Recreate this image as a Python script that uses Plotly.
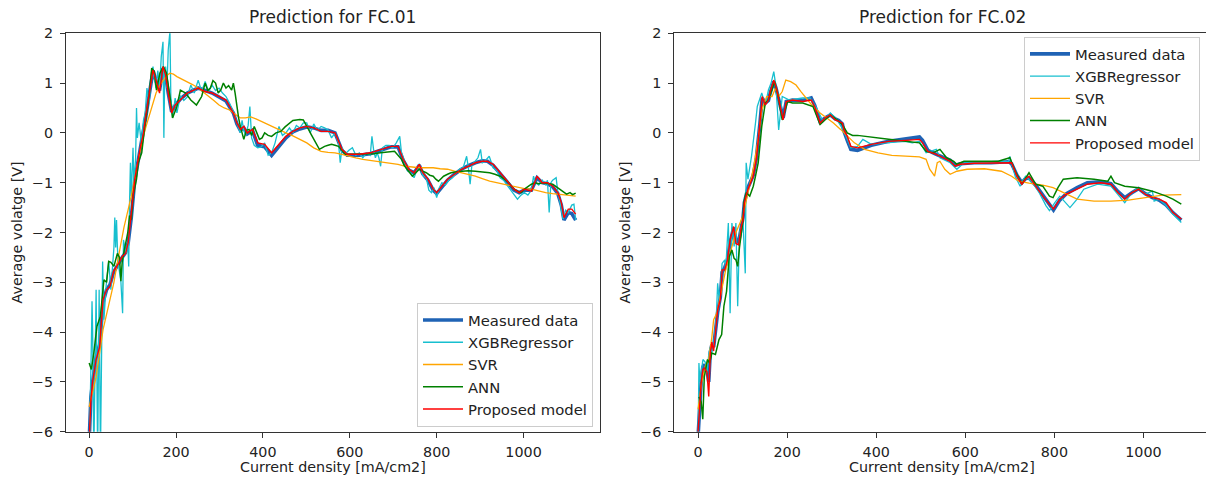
import plotly.graph_objects as go

# ---------------- data (current density [mA/cm2], average voltage [V]) ----------------
FC1_MEASURED = [(0,-6.2),(4,-5.3),(8,-5.0),(16,-4.5),(24,-4.25),(28,-3.8),(32,-3.4),(40,-3.15),(48,-3.05),(56,-2.8),(68,-2.6),(76,-2.5),(84,-2.4),(90,-2.2),(97,-1.7),(105,-0.95),(117,-0.35),(125,0.0),(130,0.3),(138,0.75),(147,1.25),(154,1.05),(162,0.85),(170,1.3),(176,1.15),(182,0.8),(190,0.42),(198,0.55),(210,0.68),(226,0.8),(251,0.9),(267,0.85),(283,0.8),(299,0.72),(315,0.64),(332,0.4),(340,0.18),(348,0.05),(356,0.1),(364,-0.02),(376,0.05),(388,-0.25),(404,-0.28),(420,-0.45),(437,-0.28),(453,-0.1),(469,0.02),(485,0.08),(501,0.12),(517,0.1),(534,0.05),(550,0.05),(566,0.0),(582,-0.35),(594,-0.45),(606,-0.45),(622,-0.45),(647,-0.42),(671,-0.35),(695,-0.28),(711,-0.28),(723,-0.55),(736,-0.75),(748,-0.8),(760,-0.65),(768,-0.82),(780,-0.95),(792,-1.15),(800,-1.22),(812,-1.08),(825,-0.95),(841,-0.83),(857,-0.73),(873,-0.66),(889,-0.6),(905,-0.56),(917,-0.57),(930,-0.65),(946,-0.82),(962,-0.98),(978,-1.15),(990,-1.2),(1002,-1.15),(1018,-1.15),(1031,-0.9),(1043,-1.0),(1055,-1.02),(1067,-1.08),(1079,-1.22),(1087,-1.45),(1093,-1.75),(1103,-1.6),(1111,-1.62),(1120,-1.75)]

FC1_XGB = [(0,-6.5),(2,-5.75),(5,-4.28),(6.6,-3.38),(8,-3.95),(10.7,-6.5),(14,-3.7),(16,-3.15),(19.5,-6.5),(23,-3.15),(26,-6.5),(28,-4.1),(31,-2.58),(34,-3.75),(39,-3.08),(45,-2.58),(50,-3.15),(57,-2.3),(59,-1.7),(61,-2.3),(63,-1.75),(65,-2.3),(67,-2.62),(73,-2.98),(77,-3.62),(79,-2.15),(85,-2.42),(89,-2.2),(91,-2.68),(93,-1.4),(95,-0.6),(97,-1.27),(101,-0.3),(103,-1.0),(107,-0.5),(109,0.5),(111,-0.1),(115,0.2),(120,-0.2),(125,0.25),(129,0.4),(133,0.9),(138,0.6),(142,1.05),(147,1.33),(150,1.1),(154,0.9),(158,1.25),(162,0.9),(166,1.53),(170,1.83),(172,-0.1),(174,1.2),(176,1.33),(179,0.9),(182,1.66),(186,2.05),(188,0.73),(192,0.3),(198,0.7),(202,0.4),(210,0.75),(218,0.65),(226,0.72),(234,0.96),(242,0.8),(251,1.06),(259,0.83),(267,1.03),(275,0.83),(283,0.96),(291,0.85),(299,0.9),(307,0.8),(315,0.73),(323,0.6),(332,0.43),(340,0.2),(348,0.0),(352,0.25),(356,0.05),(360,-0.05),(366,0.15),(370,0.53),(374,-0.1),(380,-0.25),(388,-0.3),(396,-0.28),(404,-0.2),(412,-0.45),(420,-0.4),(428,-0.2),(437,0.13),(445,-0.05),(453,0.0),(461,0.1),(469,0.0),(477,0.15),(485,0.1),(493,0.2),(501,0.2),(509,0.0),(517,0.18),(525,0.05),(534,0.13),(542,0.1),(550,0.06),(558,-0.1),(566,0.0),(574,-0.2),(578,-0.6),(582,-0.3),(590,-0.42),(598,-0.35),(606,-0.3),(614,-0.45),(622,-0.4),(630,-0.5),(638,-0.4),(647,-0.45),(651,-0.07),(655,-0.35),(659,-0.5),(663,-0.4),(667,-0.5),(671,-0.67),(675,-0.3),(683,-0.25),(691,-0.25),(699,-0.3),(707,-0.2),(715,-0.07),(719,-0.4),(723,-0.5),(732,-0.75),(740,-0.8),(748,-0.9),(756,-0.7),(760,-0.62),(768,-0.85),(776,-0.9),(782,-1.15),(788,-1.2),(794,-1.1),(800,-1.3),(806,-1.1),(812,-1.0),(820,-1.05),(828,-0.95),(836,-0.9),(845,-0.8),(853,-0.72),(861,-0.7),(869,-0.47),(873,-0.7),(877,-1.03),(881,-0.65),(889,-0.55),(895,-0.5),(901,-0.33),(905,-0.6),(913,-0.55),(921,-0.47),(930,-0.7),(938,-0.75),(946,-0.9),(954,-0.95),(962,-1.05),(970,-1.15),(978,-1.25),(986,-1.33),(994,-1.25),(1002,-1.2),(1010,-1.25),(1018,-1.15),(1023,-0.87),(1027,-1.0),(1035,-1.05),(1043,-0.95),(1051,-1.05),(1055,-0.95),(1059,-1.6),(1063,-1.0),(1067,-0.95),(1075,-0.9),(1079,-1.2),(1083,-1.35),(1091,-1.73),(1097,-1.55),(1103,-1.6),(1111,-1.45),(1116,-1.43),(1120,-1.75)]

FC1_SVR = [(0,-5.5),(16,-4.9),(32,-3.95),(49,-3.3),(57,-3.0),(65,-2.6),(80,-1.9),(97,-1.27),(110,-0.7),(121,-0.2),(130,0.1),(138,0.33),(146,0.6),(154,0.8),(162,0.95),(170,1.06),(178,1.15),(186,1.2),(194,1.18),(202,1.13),(214,1.08),(226,1.03),(238,0.97),(251,0.9),(263,0.82),(275,0.73),(287,0.65),(299,0.56),(311,0.5),(323,0.46),(335,0.38),(348,0.3),(360,0.3),(372,0.32),(384,0.28),(396,0.23),(408,0.18),(420,0.13),(436,0.06),(453,0.0),(469,-0.06),(485,-0.13),(501,-0.2),(517,-0.3),(534,-0.37),(550,-0.39),(566,-0.4),(582,-0.43),(598,-0.47),(614,-0.5),(630,-0.53),(646,-0.55),(663,-0.57),(679,-0.58),(695,-0.6),(711,-0.63),(728,-0.67),(744,-0.69),(760,-0.7),(776,-0.7),(792,-0.7),(808,-0.72),(825,-0.73),(841,-0.77),(857,-0.8),(873,-0.83),(889,-0.87),(905,-0.92),(922,-0.97),(938,-1.0),(954,-1.03),(970,-1.07),(986,-1.1),(1002,-1.12),(1018,-1.13),(1035,-1.17),(1051,-1.2),(1067,-1.22),(1083,-1.23),(1100,-1.25),(1120,-1.27)]

FC1_ANN = [(0,-4.62),(5,-4.75),(10.7,-4.42),(18,-3.88),(26,-3.68),(34,-2.95),(40,-3.0),(45,-2.58),(50,-2.6),(57,-2.68),(65,-2.42),(70,-2.5),(73,-2.98),(76,-2.6),(81,-2.35),(89,-2.0),(93,-1.66),(97,-1.75),(101,-1.27),(109,-0.93),(113,-0.6),(121,-0.4),(129,0.2),(138,0.73),(144,1.3),(150,1.23),(155,0.86),(163,1.2),(171,1.33),(178,1.2),(186,0.73),(192,0.3),(202,0.53),(210,0.86),(222,0.8),(234,0.66),(247,0.56),(259,0.73),(267,1.0),(273,0.85),(279,0.9),(285,1.05),(291,1.0),(297,0.8),(303,0.86),(309,1.0),(315,0.9),(321,0.95),(328,0.86),(332,1.0),(336,0.8),(340,0.53),(344,0.3),(348,0.13),(352,0.0),(356,-0.13),(362,0.05),(368,0.07),(374,-0.05),(380,0.13),(386,0.0),(392,-0.13),(398,-0.1),(404,0.0),(412,-0.05),(420,-0.07),(430,0.0),(441,0.03),(451,0.12),(461,0.2),(469,0.25),(477,0.26),(485,0.27),(493,0.26),(499,0.15),(505,0.07),(511,-0.03),(517,-0.13),(524,-0.25),(530,-0.33),(536,-0.3),(542,-0.27),(550,-0.25),(558,-0.23),(566,-0.25),(574,-0.27),(582,-0.35),(590,-0.43),(606,-0.43),(622,-0.43),(639,-0.43),(655,-0.42),(671,-0.4),(687,-0.38),(703,-0.37),(711,-0.45),(719,-0.53),(725,-0.65),(732,-0.73),(738,-0.82),(744,-0.87),(752,-0.8),(760,-0.73),(768,-0.77),(776,-0.8),(784,-0.85),(792,-0.87),(798,-0.93),(804,-0.97),(810,-0.92),(816,-0.87),(825,-0.83),(833,-0.8),(845,-0.78),(857,-0.77),(873,-0.76),(889,-0.77),(905,-0.78),(922,-0.8),(934,-0.83),(946,-0.87),(956,-0.93),(966,-1.0),(972,-1.07),(978,-1.13),(986,-1.17),(994,-1.2),(1002,-1.13),(1010,-1.07),(1018,-1.03),(1027,-1.0),(1035,-1.02),(1043,-1.0),(1055,-1.02),(1067,-1.03),(1075,-1.08),(1083,-1.13),(1091,-1.18),(1099,-1.23),(1107,-1.2),(1113,-1.24),(1120,-1.21)]

FC1_PROPOSED = [(0,-6.2),(4,-5.35),(8,-5.0),(16,-4.55),(24,-4.3),(28,-3.75),(32,-3.35),(40,-3.15),(48,-3.08),(56,-2.78),(68,-2.62),(76,-2.48),(84,-2.42),(90,-2.2),(97,-1.66),(105,-0.93),(117,-0.33),(125,0.0),(130,0.33),(138,0.73),(147,1.26),(154,1.06),(162,0.8),(170,1.33),(176,1.16),(182,0.8),(190,0.4),(198,0.56),(210,0.66),(226,0.8),(251,0.9),(267,0.83),(283,0.8),(299,0.73),(315,0.66),(332,0.4),(340,0.2),(348,0.07),(356,0.13),(364,0.0),(376,0.07),(388,-0.2),(404,-0.23),(420,-0.4),(437,-0.23),(453,-0.07),(469,0.03),(485,0.1),(501,0.13),(517,0.1),(534,0.03),(550,0.03),(566,0.0),(582,-0.33),(594,-0.43),(606,-0.43),(622,-0.43),(647,-0.4),(671,-0.33),(695,-0.27),(711,-0.27),(723,-0.53),(736,-0.73),(748,-0.8),(760,-0.63),(768,-0.8),(780,-0.93),(792,-1.13),(800,-1.2),(812,-1.07),(825,-0.93),(841,-0.83),(857,-0.73),(873,-0.67),(889,-0.6),(905,-0.57),(917,-0.57),(930,-0.63),(946,-0.8),(962,-0.97),(978,-1.13),(990,-1.2),(1002,-1.13),(1018,-1.17),(1031,-0.87),(1043,-1.0),(1055,-1.0),(1067,-1.07),(1079,-1.2),(1087,-1.4),(1093,-1.7),(1103,-1.53),(1111,-1.53),(1120,-1.63)]

FC2_MEASURED = [(0,-6.1),(3,-5.6),(7,-5.0),(10.6,-4.7),(14,-4.65),(20,-4.75),(24,-5.0),(27.5,-4.4),(31,-4.25),(35,-4.3),(39,-3.95),(44,-3.6),(50,-3.3),(54,-2.8),(60,-2.7),(66,-2.55),(72,-2.2),(80,-1.9),(85,-2.15),(91,-2.2),(97,-1.9),(101,-1.7),(104,-1.4),(112,-1.1),(124,-0.85),(131,-0.5),(139,0.2),(144,0.7),(151,0.6),(158,0.65),(162,0.8),(170,1.03),(175,0.9),(183,0.6),(191,0.3),(198,0.63),(212,0.66),(235,0.65),(254,0.7),(262,0.55),(274,0.22),(285,0.3),(297,0.36),(308,0.28),(316,0.25),(324,0.18),(327,0.05),(335,-0.15),(343,-0.33),(358,-0.35),(389,-0.25),(428,-0.17),(466,-0.12),(497,-0.08),(504,-0.15),(516,-0.35),(535,-0.43),(551,-0.5),(566,-0.55),(577,-0.65),(589,-0.62),(620,-0.6),(658,-0.6),(697,-0.58),(704,-0.62),(716,-0.85),(727,-1.0),(735,-0.92),(743,-0.9),(758,-1.05),(774,-1.25),(789,-1.45),(798,-1.55),(812,-1.35),(827,-1.22),(851,-1.1),(874,-1.0),(904,-0.98),(927,-1.02),(943,-1.18),(958,-1.3),(974,-1.2),(989,-1.12),(1004,-1.22),(1020,-1.3),(1035,-1.35),(1051,-1.45),(1066,-1.6),(1085,-1.75)]

FC2_XGB = [(0,-6.3),(2,-4.62),(4,-5.0),(8,-4.7),(11,-4.55),(16,-4.6),(20,-4.82),(24,-4.45),(27.5,-4.3),(31,-4.4),(35,-4.3),(41,-3.7),(44,-3.02),(48,-3.4),(54,-2.62),(60,-2.55),(62,-2.75),(68,-1.81),(72,-3.62),(76,-1.81),(81,-2.28),(85,-1.81),(89,-3.48),(93,-2.0),(101,-1.8),(106,-2.82),(108,-0.6),(112,-0.93),(120,-0.47),(129,0.2),(133,0.53),(143,0.8),(151,0.56),(158,0.86),(164,1.0),(170,1.23),(175,0.93),(181,0.06),(189,0.73),(205,0.66),(235,0.7),(251,0.7),(266,0.5),(281,0.23),(297,0.4),(312,0.26),(328,0.03),(343,-0.3),(358,-0.27),(370,-0.13),(389,-0.23),(420,-0.2),(466,-0.17),(481,-0.2),(497,-0.17),(512,-0.4),(535,-0.33),(543,-0.5),(566,-0.6),(581,-0.73),(597,-0.6),(630,-0.6),(697,-0.57),(700,-0.47),(712,-0.87),(723,-1.07),(735,-0.87),(751,-1.0),(766,-1.2),(781,-1.46),(789,-1.56),(801,-1.4),(812,-1.27),(835,-1.5),(851,-1.33),(866,-1.13),(897,-1.03),(927,-1.07),(943,-1.23),(958,-1.4),(974,-1.2),(989,-1.1),(1004,-1.23),(1020,-1.17),(1024,-1.37),(1035,-1.33),(1051,-1.46),(1066,-1.63),(1085,-1.8)]

FC2_SVR = [(0,-5.55),(8,-5.02),(16,-4.69),(24,-4.55),(31,-4.1),(35,-3.75),(43,-3.6),(50,-3.28),(62,-2.75),(74,-2.35),(85,-2.0),(97,-1.75),(101,-1.66),(112,-1.2),(124,-0.73),(135,-0.13),(143,0.46),(154,0.73),(166,0.73),(174,0.9),(181,0.73),(189,0.83),(197,1.06),(208,1.03),(220,0.96),(231,0.83),(243,0.7),(258,0.53),(274,0.4),(289,0.3),(304,0.2),(320,0.07),(335,-0.07),(351,-0.2),(374,-0.33),(404,-0.4),(435,-0.45),(466,-0.47),(497,-0.48),(512,-0.53),(520,-0.73),(528,-0.83),(531,-0.87),(537,-0.6),(543,-0.57),(554,-0.73),(566,-0.83),(581,-0.77),(604,-0.73),(643,-0.72),(681,-0.77),(704,-0.87),(720,-0.97),(743,-1.01),(774,-1.05),(797,-1.1),(820,-1.2),(851,-1.33),(889,-1.37),(927,-1.37),(966,-1.35),(1004,-1.3),(1043,-1.25),(1085,-1.24)]

FC2_ANN = [(2,-5.3),(7,-5.4),(10.6,-5.75),(14,-4.9),(18,-4.7),(21,-4.55),(26,-4.62),(31,-4.42),(39,-4.45),(47,-4.15),(53,-4.05),(58,-3.48),(64,-3.18),(70,-2.48),(76,-2.35),(81,-2.52),(85,-2.55),(89,-2.68),(93,-2.3),(101,-1.75),(103,-1.4),(108,-1.2),(116,-1.27),(124,-1.07),(129,-0.87),(135,-0.6),(143,0.13),(151,0.6),(158,0.66),(166,0.9),(172,1.03),(180,0.73),(189,0.26),(201,0.63),(212,0.6),(235,0.6),(258,0.53),(274,0.17),(285,0.26),(297,0.36),(312,0.26),(324,0.17),(335,0.0),(347,-0.05),(358,-0.05),(389,-0.08),(428,-0.13),(466,-0.17),(497,-0.2),(512,-0.37),(527,-0.4),(543,-0.33),(558,-0.5),(574,-0.57),(581,-0.63),(597,-0.57),(635,-0.57),(674,-0.57),(700,-0.5),(712,-0.77),(727,-1.03),(743,-0.8),(758,-1.03),(774,-1.07),(789,-1.27),(797,-1.3),(808,-1.1),(820,-0.93),(851,-0.9),(889,-0.93),(920,-0.97),(927,-0.87),(935,-1.0),(958,-1.07),(989,-1.1),(1020,-1.17),(1051,-1.27),(1066,-1.33),(1085,-1.43)]

FC2_PROPOSED = [(0,-6.0),(3,-5.5),(7,-5.02),(10.6,-4.75),(14,-4.72),(20,-4.8),(24,-5.29),(27.5,-4.42),(31,-4.2),(35,-4.38),(39,-3.95),(44,-3.55),(50,-3.35),(54,-2.75),(60,-2.75),(66,-2.55),(72,-2.15),(80,-1.88),(85,-2.22),(91,-2.25),(97,-1.88),(101,-1.75),(104,-1.4),(112,-1.13),(124,-0.87),(131,-0.53),(139,0.2),(144,0.73),(151,0.56),(158,0.66),(162,0.83),(170,1.06),(175,0.93),(183,0.6),(191,0.26),(198,0.63),(212,0.66),(235,0.63),(254,0.66),(262,0.53),(274,0.2),(285,0.3),(297,0.36),(308,0.26),(316,0.23),(324,0.2),(327,0.07),(335,-0.07),(343,-0.27),(358,-0.3),(389,-0.23),(428,-0.17),(466,-0.15),(497,-0.13),(504,-0.2),(516,-0.37),(535,-0.43),(551,-0.5),(566,-0.57),(577,-0.67),(589,-0.63),(620,-0.61),(658,-0.6),(697,-0.59),(704,-0.6),(716,-0.87),(727,-1.03),(735,-0.93),(743,-0.87),(758,-1.07),(774,-1.27),(789,-1.43),(798,-1.53),(812,-1.33),(827,-1.23),(851,-1.13),(874,-1.03),(904,-1.0),(927,-1.03),(943,-1.2),(958,-1.33),(974,-1.2),(989,-1.13),(1004,-1.23),(1020,-1.3),(1035,-1.33),(1051,-1.4),(1066,-1.6),(1085,-1.73)]

SERIES_NAMES = ["Measured data", "XGBRegressor", "SVR", "ANN", "Proposed model"]
TITLES = ["Prediction for FC.01", "Prediction for FC.02"]
X_LABEL = "Current density [mA/cm2]"
Y_LABEL = "Average volatge [V]"
Y_TICKS = [-6, -5, -4, -3, -2, -1, 0, 1, 2]
X_TICKS = [0, 200, 400, 600, 800, 1000]

# ---------------- styling ----------------
W, H = 1206, 481
COLORS = ["#1f63b5", "#17bfcf", "#ffa500", "#008000", "#ff0000"]
WIDTHS = [3.6, 1.3, 1.3, 1.5, 1.4]
FONT = "DejaVu Sans"
TXT = "#222222"
FS = 14.3
FS_LEG = 14.8
FS_TITLE = 17

# the captured page shows the figure in rows ~7.7 .. ~473 of the picture;
# convert wanted picture rows into figure pixels
OFF, SC = 7.7, 0.968


def fy(px):
    return (px - OFF) / SC


def py(px):  # paper fraction for a wanted picture row
    return 1 - fy(px) / H


TOP, BOTTOM = 33, 432
L1, R1 = 65.7, 600
L2 = 674

fig = go.Figure()

panels = [
    ([FC1_MEASURED, FC1_XGB, FC1_SVR, FC1_ANN, FC1_PROPOSED], "x", "y", "legend", "a"),
    ([FC2_MEASURED, FC2_XGB, FC2_SVR, FC2_ANN, FC2_PROPOSED], "x2", "y2", "legend2", "b"),
]
for series, xa, ya, lg, tag in panels:
    for i, (name, data, c, w) in enumerate(zip(SERIES_NAMES, series, COLORS, WIDTHS)):
        fig.add_trace(go.Scatter(
            x=[p[0] for p in data], y=[p[1] for p in data],
            mode="lines", name=name, line=dict(color=c, width=w),
            xaxis=xa, yaxis=ya, legend=lg, legendgroup=f"{tag}{i}", showlegend=True,
        ))

axis_common = dict(
    showline=True, linecolor="#333333", linewidth=1,
    ticks="outside", ticklen=4.8, tickwidth=1, tickcolor="#333333",
    showgrid=False, zeroline=False,
    tickfont=dict(family=FONT, size=FS, color=TXT),
)

legend_common = dict(
    xanchor="right", yanchor="top",
    bgcolor="rgba(255,255,255,0.85)", bordercolor="#cccccc", borderwidth=1,
    font=dict(family=FONT, size=FS_LEG, color=TXT), itemwidth=40,
    traceorder="grouped", tracegroupgap=0,
)

ydom = [py(BOTTOM), py(TOP)]
fig.update_layout(
    width=W, height=H,
    margin=dict(l=0, r=0, t=0, b=0),
    paper_bgcolor="white", plot_bgcolor="white",
    font=dict(family=FONT, size=FS, color=TXT),
    xaxis=dict(domain=[L1 / W, R1 / W], range=[-54, 1176], tickvals=X_TICKS,
               mirror=True, anchor="y", ticklabelstandoff=2, **axis_common),
    yaxis=dict(domain=ydom, range=[-6, 2], tickvals=Y_TICKS,
               mirror=True, anchor="x", ticklabelstandoff=4, **axis_common),
    xaxis2=dict(domain=[L2 / W, 1.0], range=[-54, 1140.4], tickvals=X_TICKS,
                mirror=True, anchor="y2", ticklabelstandoff=2, **axis_common),
    yaxis2=dict(domain=ydom, range=[-6, 2], tickvals=Y_TICKS,
                mirror=False, anchor="x2", ticklabelstandoff=4, **axis_common),
    legend=dict(x=593 / W, y=py(303), **legend_common),
    legend2=dict(x=1200 / W, y=py(36.5), **legend_common),
    showlegend=True,
)

cx1 = (L1 + R1) / 2
cx2 = (L2 + 1210) / 2
ann = []
for cx, t in [(cx1, TITLES[0]), (cx2, TITLES[1])]:
    ann.append(dict(x=cx / W, y=py(17), xref="paper", yref="paper", text=t,
                    showarrow=False, xanchor="center", yanchor="middle",
                    font=dict(family=FONT, size=FS_TITLE, color=TXT)))
    ann.append(dict(x=cx / W, y=py(467), xref="paper", yref="paper", text=X_LABEL,
                    showarrow=False, xanchor="center", yanchor="middle",
                    font=dict(family=FONT, size=FS, color=TXT)))
for xpx in (17, 625):
    ann.append(dict(x=xpx / W, y=py((TOP + BOTTOM) / 2), xref="paper", yref="paper",
                    text=Y_LABEL, showarrow=False, textangle=-90,
                    xanchor="center", yanchor="middle",
                    font=dict(family=FONT, size=FS, color=TXT)))
fig.update_layout(annotations=ann)

fig.write_html("out.html", config={"displayModeBar": False},
               post_script="document.documentElement.style.margin='0';document.body.style.margin='0';document.body.style.padding='0';document.body.style.overflow='hidden';document.documentElement.style.overflow='hidden';")
